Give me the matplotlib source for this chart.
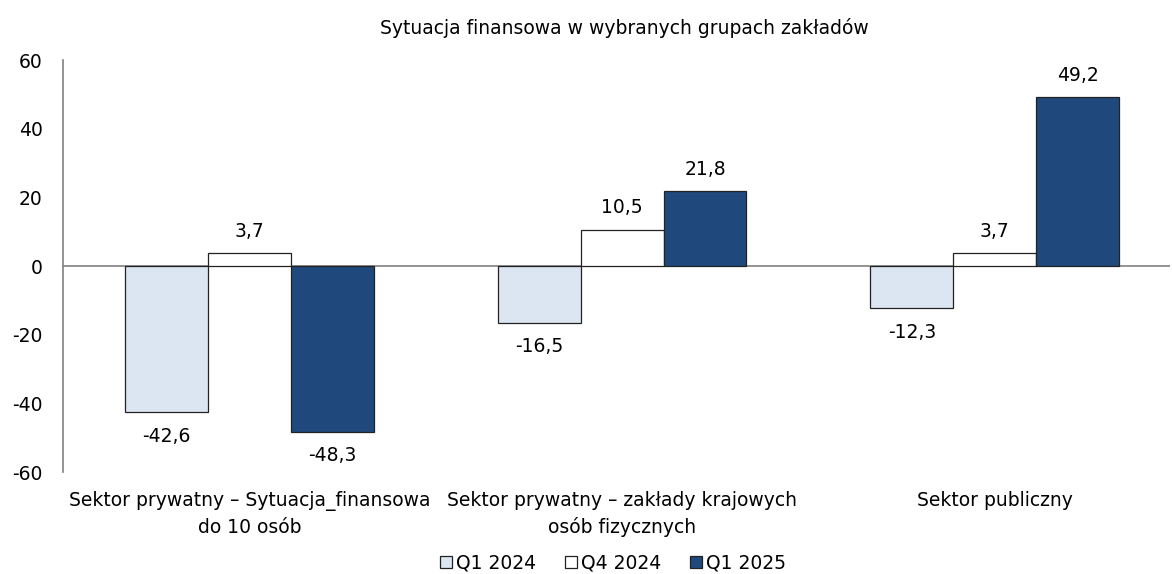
import matplotlib.pyplot as plt
import numpy as np

categories = ["Sektor prywatny \u2013 Sytuacja_finansowa\ndo 10 osób",
              "Sektor prywatny \u2013 zakłady krajowych\nosób fizycznych",
              "Sektor publiczny"]
series_names = ["Q1 2024", "Q4 2024", "Q1 2025"]
q1_2024 = [-42.6, -16.5, -12.3]
q4_2024 = [3.7, 10.5, 3.7]
q1_2025 = [-48.3, 21.8, 49.2]
yticks = [-60, -40, -20, 0, 20, 40, 60]

colors = ["#DCE6F2", "#FFFFFF", "#1F497D"]

plt.rcParams['font.family'] = ['DejaVu Sans']
fs = 13.5

fig = plt.figure(figsize=(11.72, 5.74), dpi=100)
ax = fig.add_axes([63 / 1172, 102 / 574, (1170 - 63) / 1172, 412 / 574])

x = np.arange(len(categories))
w = 0.2225
for i, (vals, c, name) in enumerate(zip([q1_2024, q4_2024, q1_2025], colors, series_names)):
    pos = x + (i - 1) * w
    ax.bar(pos, vals, w, color=c, edgecolor="#222222", linewidth=0.9, label=name, zorder=3)
    for p, v in zip(pos, vals):
        lbl = f"{v:.1f}".replace(".", ",")
        if v >= 0:
            ax.annotate(lbl, (p, v), xytext=(0, 9), textcoords="offset points",
                        ha="center", va="bottom", fontsize=fs)
        else:
            ax.annotate(lbl, (p, v), xytext=(0, -10.5), textcoords="offset points",
                        ha="center", va="top", fontsize=fs)

ax.axhline(0, color="#808080", linewidth=1.2, zorder=2)
ax.set_xlim(-0.5, 2.47)
ax.set_ylim(-60, 60)
ax.set_yticks(yticks)
ax.set_yticklabels([str(t) for t in yticks], fontsize=fs)
ax.set_xticks(x)
ax.set_xticklabels(categories, fontsize=fs, linespacing=1.44)
ax.tick_params(axis="x", length=0, pad=14)
ax.tick_params(axis="y", length=0, pad=14.5)
for s in ["top", "right", "bottom"]:
    ax.spines[s].set_visible(False)
ax.spines["left"].set_color("#808080")
ax.spines["left"].set_linewidth(1.2)

fig.text(0.533, 1 - 28 / 574, "Sytuacja finansowa w wybranych grupach zakładów",
         ha="center", va="center", fontsize=13.5)

fig.legend(loc="center", bbox_to_anchor=(0.523, 1 - 563 / 574), ncol=3, frameon=False,
           fontsize=fs, handlelength=0.65, handleheight=0.65, handletextpad=0.2,
           columnspacing=1.55)

fig.savefig("out.png", dpi=100)
